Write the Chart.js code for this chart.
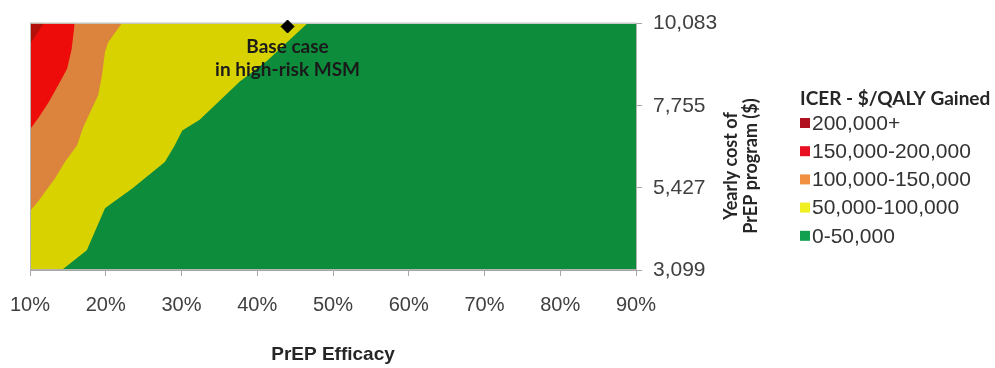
<!DOCTYPE html>
<html>
<head>
<meta charset="utf-8">
<script src="https://cdn.jsdelivr.net/npm/chart.js@4.4.1/dist/chart.umd.min.js"></script>
<style>
  html, body { margin: 0; padding: 0; background: #fff; }
</style>
</head>
<body>
<canvas id="icerChart" width="995" height="368"></canvas>
<script>
// x: PrEP efficacy (%), y: yearly cost of PrEP program ($)
const costTicks = [3099, 5427, 7755, 10083];

const bandLabels = ['200,000+', '150,000-200,000', '100,000-150,000', '50,000-100,000', '0-50,000'];
const bandColors = ['#b3100c', '#ee0c0a', '#dc843e', '#d8d200', '#0d8c3c'];
const swatchColors = ['#b01020', '#e81020', '#f09040', '#f0f020', '#10a050'];

// contour edges: [efficacy, cost] where ICER crosses each threshold
const edge200k = [[10, 9500], [11.8, 10083]];
const edge150k = [[10, 7080], [11.1, 7410], [12.4, 7830], [13.7, 8330], [14.9, 8800], [15.5, 9360], [15.9, 10083]];
const edge100k = [[10, 4770], [11.1, 5050], [12, 5320], [13.3, 5690], [14.6, 6160], [16.2, 6630], [17, 7130],
  [18.2, 7690], [19, 8050], [19.5, 8610], [19.9, 9280], [20.3, 9550], [22.1, 10083]];
const edge50k = [[10, 3099], [14.2, 3099], [17.5, 3660], [19.9, 4850], [20.8, 4990], [23.5, 5410], [27.8, 6160],
  [29.1, 6630], [30.1, 7050], [32.4, 7360], [37.7, 8440], [41.3, 9030], [46.6, 10083]];
const edge0 = [[10, 3099], [90, 3099]];

const baseCase = [[44, 10000]];

const edges = [edge200k, edge150k, edge100k, edge50k, edge0];
const toPoints = arr => arr.map(([x, y]) => ({ x: x, y: y }));

const labelFont = "'Liberation Sans', Arial, sans-serif";
const boldFont = "Lato, 'Open Sans', sans-serif";

const bandSets = edges.map((edge, i) => ({
  label: bandLabels[i],
  data: toPoints(edge),
  fill: 'end',
  backgroundColor: bandColors[i],
  borderColor: 'transparent',
  borderWidth: 0,
  pointRadius: 0,
  tension: 0,
  order: i + 1
}));

// outline of the plot, drawn after the last band and before the marker
const frame = {
  id: 'frame',
  afterDatasetDraw(chart, args) {
    if (args.index !== 1) return;
    const { ctx, chartArea: a } = chart;
    ctx.save();
    ctx.strokeStyle = '#b4b4b4';
    ctx.lineWidth = 1;
    ctx.strokeRect(a.left + 0.5, a.top - 0.5, a.right - a.left, a.bottom - a.top);
    ctx.restore();
  }
};

const extras = {
  id: 'extras',
  afterDraw(chart) {
    const { ctx, chartArea: a } = chart;
    ctx.save();

    // base case label under the marker
    const pt = chart.getDatasetMeta(0).data[0];
    ctx.fillStyle = '#1a1a1a';
    ctx.font = 'bold 19px ' + boldFont;
    ctx.textAlign = 'center';
    ctx.textBaseline = 'middle';
    ctx.fillText('Base case', pt.x, pt.y + 20);
    ctx.fillText('in high-risk MSM', pt.x, pt.y + 43);

    // y axis title, reading upwards
    const midY = 166;
    ctx.save();
    ctx.translate(a.right + 95, midY);
    ctx.rotate(-Math.PI / 2);
    ctx.fillStyle = '#262626';
    ctx.font = 'bold 18px ' + boldFont;
    ctx.fillText('Yearly cost of', 0, 0);
    ctx.fillText('PrEP program ($)', 0, 20);
    ctx.restore();

    // legend
    const lx = a.right + 164;
    ctx.textAlign = 'left';
    ctx.fillStyle = '#262626';
    ctx.font = 'bold 19px ' + boldFont;
    ctx.fillText('ICER - $/QALY Gained', lx, 99);
    ctx.font = '21px ' + labelFont;
    bandLabels.forEach((txt, i) => {
      const y = 123 + i * 28.2;
      ctx.fillStyle = swatchColors[i];
      ctx.fillRect(lx, y - 5, 10, 10);
      ctx.fillStyle = '#333333';
      ctx.fillText(txt, lx + 12, y + 1);
    });
    ctx.restore();
  }
};

new Chart(document.getElementById('icerChart'), {
  type: 'line',
  data: {
    datasets: [{
      type: 'scatter',
      label: 'Base case',
      data: toPoints(baseCase),
      pointStyle: 'rectRot',
      pointRadius: 6.5,
      backgroundColor: '#000',
      borderColor: '#000',
      clip: false,
      order: 0
    }].concat(bandSets)
  },
  options: {
    responsive: false,
    animation: false,
    events: [],
    layout: { padding: { left: 30, top: 19, right: 0, bottom: 0 } },
    plugins: {
      legend: { display: false },
      tooltip: { enabled: false }
    },
    scales: {
      x: {
        type: 'linear',
        min: 10,
        max: 90,
        afterFit: s => {
          s.height = 98;
          s.paddingLeft = 10;
          s.paddingRight = 10;
        },
        ticks: {
          stepSize: 10,
          maxRotation: 0,
          padding: 17,
          color: '#404040',
          font: { family: labelFont, size: 20 },
          callback: v => v + '%'
        },
        grid: { drawOnChartArea: false, tickLength: 6, color: '#a6a6a6' },
        border: { color: '#a6a6a6' },
        title: {
          display: true,
          text: 'PrEP Efficacy',
          color: '#262626',
          font: { family: labelFont, size: 19, weight: 'bold' },
          padding: { top: 8, bottom: 2 }
        }
      },
      y: {
        type: 'linear',
        position: 'right',
        min: 3099,
        max: 10083,
        afterBuildTicks: s => { s.ticks = costTicks.map(v => ({ value: v })); },
        afterFit: s => { s.width = 359; },
        ticks: {
          padding: 11,
          color: '#404040',
          font: { family: labelFont, size: 21 },
          callback: v => v.toLocaleString('en-US')
        },
        grid: { drawOnChartArea: false, tickLength: 6, color: '#a6a6a6' },
        border: { color: '#a6a6a6' }
      }
    }
  },
  plugins: [frame, extras]
});
</script>
</body>
</html>
